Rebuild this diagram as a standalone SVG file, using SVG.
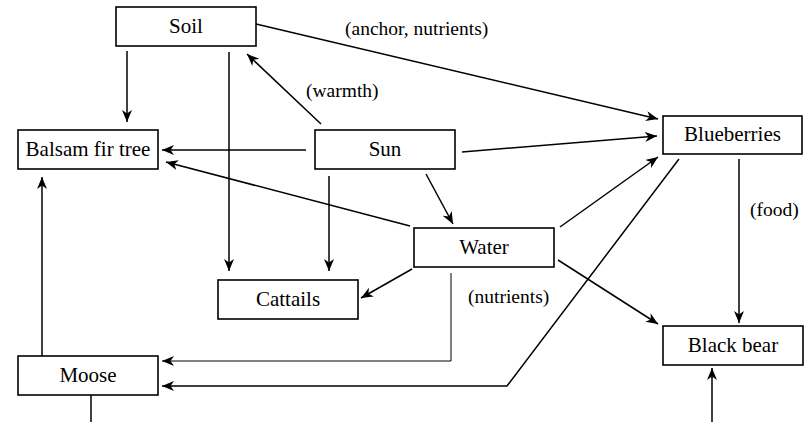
<svg xmlns="http://www.w3.org/2000/svg" width="805" height="422" viewBox="0 0 805 422">
<style>
  .box{fill:#fff;stroke:#000;stroke-width:1.6}
  .nt{font-family:"Liberation Serif","DejaVu Serif",serif;font-size:21px;text-anchor:middle;fill:#000}
  .lb{font-family:"Liberation Serif","DejaVu Serif",serif;font-size:19.5px;fill:#000}
  .c{fill:none;stroke:#000;stroke-width:1.5}
  .a{marker-end:url(#ah)}
  .thin{stroke-width:1}
</style>
<defs>
  <marker id="ah" viewBox="0 0 12 10" refX="12" refY="5" markerWidth="12" markerHeight="10" orient="auto" markerUnits="userSpaceOnUse">
    <path d="M0,0 L12,5 L0,10 L3.5,5 z" fill="#000"/>
  </marker>
</defs>
<g id="connectors">
  <line class="c a" x1="127" y1="51" x2="127" y2="122"/>
  <line class="c a" x1="229" y1="52" x2="229" y2="271"/>
  <line class="c a" x1="321" y1="124" x2="247" y2="54"/>
  <line class="c a" x1="306" y1="150" x2="162" y2="150"/>
  <line class="c a" x1="329" y1="176" x2="329" y2="271"/>
  <line class="c a" x1="410" y1="226" x2="166" y2="162"/>
  <line class="c a" x1="426" y1="174" x2="453" y2="224"/>
  <line class="c a" x1="256" y1="24" x2="658" y2="119"/>
  <line class="c a" x1="462" y1="152" x2="657" y2="136"/>
  <line class="c a" x1="560" y1="227" x2="658" y2="157"/>
  <polyline class="c a" points="679,159 507,386 162,386"/>
  <polyline class="c a thin" points="451,273 451,361 162,361"/>
  <line class="c a" x1="412" y1="269" x2="361" y2="298"/>
  <line class="c a" x1="558" y1="260" x2="658" y2="324"/>
  <line class="c a" x1="739" y1="159" x2="739" y2="323"/>
  <line class="c" x1="91" y1="395" x2="91" y2="422"/>
  <line class="c a" x1="712" y1="422" x2="712" y2="368"/>
  <line class="c a" x1="42" y1="356" x2="42" y2="177"/>
  <text class="lb" x="345" y="35">(anchor, nutrients)</text>
  <text class="lb" x="306" y="97">(warmth)</text>
  <text class="lb" x="750" y="216">(food)</text>
  <text class="lb" x="468" y="303">(nutrients)</text>
</g>
<g id="soil"><rect class="box" x="116" y="7" width="140" height="39"/><text class="nt" x="186" y="33">Soil</text></g>
<g id="balsam"><rect class="box" x="18" y="130" width="140" height="39"/><text class="nt" x="88" y="156">Balsam fir tree</text></g>
<g id="sun"><rect class="box" x="315" y="130" width="140" height="39"/><text class="nt" x="385" y="156">Sun</text></g>
<g id="blueberries"><rect class="box" x="663" y="116" width="139" height="38"/><text class="nt" x="732.5" y="141">Blueberries</text></g>
<g id="water"><rect class="box" x="414" y="228" width="140" height="39"/><text class="nt" x="484" y="254">Water</text></g>
<g id="cattails"><rect class="box" x="218" y="280" width="140" height="39"/><text class="nt" x="288" y="306">Cattails</text></g>
<g id="moose"><rect class="box" x="18" y="356" width="140" height="39"/><text class="nt" x="88" y="382">Moose</text></g>
<g id="blackbear"><rect class="box" x="663" y="326" width="140" height="39"/><text class="nt" x="733" y="352">Black bear</text></g>
</svg>
